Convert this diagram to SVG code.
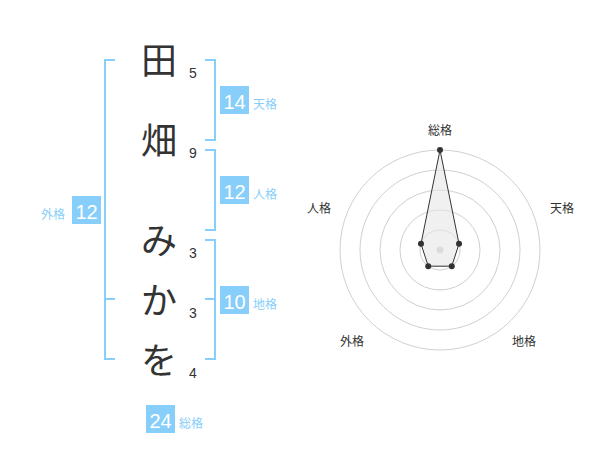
<svg xmlns="http://www.w3.org/2000/svg" width="600" height="470" viewBox="0 0 600 470">
<style>
.ch{font-family:"Noto Sans CJK JP","Noto Sans CJK SC",sans-serif;font-size:36px;fill:#333;text-anchor:middle}
.num{font-family:"Liberation Sans",Arial,sans-serif;font-size:14px;fill:#333;text-anchor:middle}
.box{fill:#87cefa}
.bn{font-family:"Liberation Sans",Arial,sans-serif;font-size:20px;fill:#fff;text-anchor:middle}
.lb{font-family:"Noto Sans CJK JP","Noto Sans CJK SC",sans-serif;font-size:12px;fill:#87cefa}
.br{fill:none;stroke:#87cefa;stroke-width:2}
.ring{fill:none;stroke:#d0d0d0;stroke-width:1}
.rl{font-family:"Noto Sans CJK JP","Noto Sans CJK SC",sans-serif;font-size:12px;fill:#333;text-anchor:middle}
.pt{fill:#333}
</style>
<rect width="600" height="470" fill="#fff"/>
<g id="connectors">
<path class="br" d="M115,60 H105 V359 H115 M105,299 H115"/>
<path class="br" d="M205,60 H215 V140 H205"/>
<path class="br" d="M205,150 H215 V230 H205"/>
<path class="br" d="M205,240 H215 V359 H205 M215,299 H205"/>
</g>
<g id="char-1"><text class="ch" x="159" y="74">田</text><text class="num" x="193" y="78">5</text></g>
<g id="char-2"><text class="ch" x="159" y="154">畑</text><text class="num" x="193" y="158">9</text></g>
<g id="char-3"><text class="ch" x="159" y="254">み</text><text class="num" x="193" y="258">3</text></g>
<g id="char-4"><text class="ch" x="159" y="314">か</text><text class="num" x="193" y="318">3</text></g>
<g id="char-5"><text class="ch" x="159" y="374">を</text><text class="num" x="193" y="378">4</text></g>
<g id="tenkaku"><rect class="box" x="220" y="86" width="29" height="28"/><text class="bn" x="234.5" y="109">14</text><text class="lb" x="253" y="109">天格</text></g>
<g id="jinkaku"><rect class="box" x="220" y="176" width="29" height="28"/><text class="bn" x="234.5" y="199">12</text><text class="lb" x="253" y="199">人格</text></g>
<g id="chikaku"><rect class="box" x="220" y="286" width="29" height="28"/><text class="bn" x="234.5" y="309">10</text><text class="lb" x="253" y="309">地格</text></g>
<g id="gaikaku"><rect class="box" x="72" y="196" width="29" height="28"/><text class="bn" x="86.5" y="219">12</text><text class="lb" x="65" y="219" text-anchor="end">外格</text></g>
<g id="soukaku"><rect class="box" x="146" y="405" width="29" height="28"/><text class="bn" x="160.5" y="428">24</text><text class="lb" x="179" y="428">総格</text></g>
<g id="radar">
<circle class="ring" cx="440" cy="250" r="100"/>
<circle class="ring" cx="440" cy="250" r="80"/>
<circle class="ring" cx="440" cy="250" r="60"/>
<circle class="ring" cx="440" cy="250" r="40"/>
<circle class="ring" cx="440" cy="250" r="20"/>
<circle cx="440" cy="250" r="3.5" fill="#ccc"/>
<polygon points="440,150 459.02,243.82 451.76,266.18 428.24,266.18 420.98,243.82" fill="#e6e6e6" fill-opacity="0.6" stroke="#333" stroke-width="1"/>
<circle class="pt" cx="440" cy="150" r="3"/>
<circle class="pt" cx="459.02" cy="243.82" r="3"/>
<circle class="pt" cx="451.76" cy="266.18" r="3"/>
<circle class="pt" cx="428.24" cy="266.18" r="3"/>
<circle class="pt" cx="420.98" cy="243.82" r="3"/>
<text class="rl" x="440" y="135">総格</text>
<text class="rl" x="562" y="213">天格</text>
<text class="rl" x="319" y="213">人格</text>
<text class="rl" x="352" y="346">外格</text>
<text class="rl" x="524" y="346">地格</text>
</g>
</svg>
